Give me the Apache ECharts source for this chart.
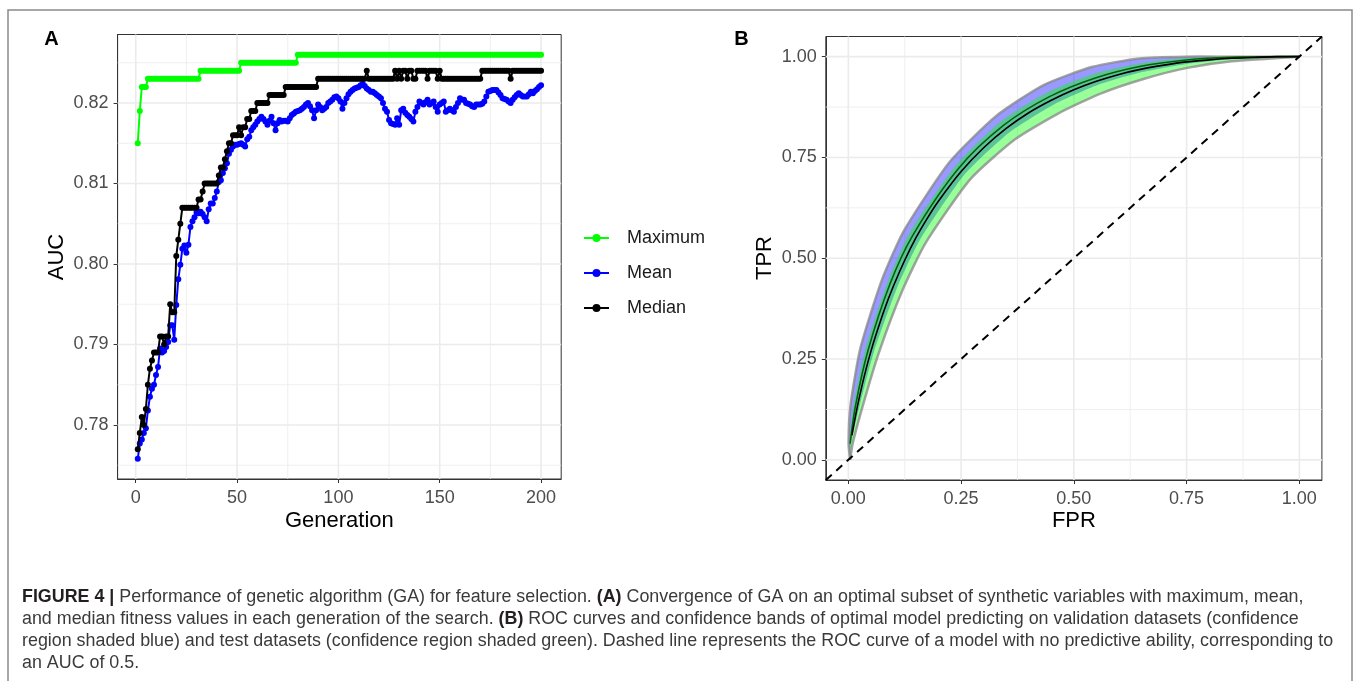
<!DOCTYPE html>
<html><head><meta charset="utf-8">
<script src="https://cdn.jsdelivr.net/npm/echarts@6/dist/echarts.min.js"></script>
<style>html,body{margin:0;padding:0;background:#fff}#c{width:1357px;height:681px}</style>
</head><body><div id="c"></div>
<script>
// ---------- Panel A data (generation 1..200) ----------
const maximumAUC = [
0.815,0.819,0.822,0.822,0.822,0.823,0.823,0.823,0.823,0.823,
0.823,0.823,0.823,0.823,0.823,0.823,0.823,0.823,0.823,0.823,
0.823,0.823,0.823,0.823,0.823,0.823,0.823,0.823,0.823,0.823,
0.823,0.824,0.824,0.824,0.824,0.824,0.824,0.824,0.824,0.824,
0.824,0.824,0.824,0.824,0.824,0.824,0.824,0.824,0.824,0.824,
0.824,0.825,0.825,0.825,0.825,0.825,0.825,0.825,0.825,0.825,
0.825,0.825,0.825,0.825,0.825,0.825,0.825,0.825,0.825,0.825,
0.825,0.825,0.825,0.825,0.825,0.825,0.825,0.825,0.825,0.826,
0.826,0.826,0.826,0.826,0.826,0.826,0.826,0.826,0.826,0.826,
0.826,0.826,0.826,0.826,0.826,0.826,0.826,0.826,0.826,0.826,
0.826,0.826,0.826,0.826,0.826,0.826,0.826,0.826,0.826,0.826,
0.826,0.826,0.826,0.826,0.826,0.826,0.826,0.826,0.826,0.826,
0.826,0.826,0.826,0.826,0.826,0.826,0.826,0.826,0.826,0.826,
0.826,0.826,0.826,0.826,0.826,0.826,0.826,0.826,0.826,0.826,
0.826,0.826,0.826,0.826,0.826,0.826,0.826,0.826,0.826,0.826,
0.826,0.826,0.826,0.826,0.826,0.826,0.826,0.826,0.826,0.826,
0.826,0.826,0.826,0.826,0.826,0.826,0.826,0.826,0.826,0.826,
0.826,0.826,0.826,0.826,0.826,0.826,0.826,0.826,0.826,0.826,
0.826,0.826,0.826,0.826,0.826,0.826,0.826,0.826,0.826,0.826,
0.826,0.826,0.826,0.826,0.826,0.826,0.826,0.826,0.826,0.826];

const meanAUC = [
0.7758,0.7777,0.7782,0.7790,0.7796,0.7818,0.7835,0.7845,0.7850,0.7862,
0.7872,0.7895,0.7890,0.7892,0.7897,0.7903,0.7924,0.7924,0.7906,0.7949,
0.7981,0.7999,0.8019,0.8023,0.8014,0.8024,0.8046,0.8053,0.8058,0.8064,
0.8063,0.8065,0.8062,0.8058,0.8053,0.8068,0.8075,0.8075,0.8082,0.8090,
0.8102,0.8104,0.8113,0.8119,0.8125,0.8137,0.8142,0.8146,0.8148,0.8148,
0.8149,0.8150,0.8148,0.8146,0.8155,0.8158,0.8166,0.8170,0.8173,0.8177,
0.8180,0.8183,0.8180,0.8177,0.8173,0.8178,0.8183,0.8175,0.8166,0.8175,
0.8179,0.8177,0.8178,0.8178,0.8177,0.8181,0.8185,0.8187,0.8189,0.8190,
0.8191,0.8193,0.8195,0.8198,0.8200,0.8196,0.8191,0.8181,0.8191,0.8198,
0.8195,0.8191,0.8193,0.8195,0.8200,0.8202,0.8204,0.8207,0.8208,0.8206,
0.8202,0.8193,0.8200,0.8206,0.8211,0.8214,0.8216,0.8218,0.8219,0.8220,
0.8222,0.8224,0.8221,0.8218,0.8216,0.8214,0.8214,0.8212,0.8210,0.8208,
0.8206,0.8200,0.8193,0.8189,0.8179,0.8175,0.8174,0.8173,0.8181,0.8173,
0.8191,0.8193,0.8188,0.8185,0.8183,0.8180,0.8177,0.8189,0.8195,0.8202,
0.8200,0.8198,0.8201,0.8204,0.8198,0.8200,0.8202,0.8195,0.8189,0.8198,
0.8200,0.8202,0.8189,0.8191,0.8193,0.8191,0.8189,0.8195,0.8200,0.8206,
0.8204,0.8204,0.8200,0.8199,0.8198,0.8196,0.8195,0.8198,0.8198,0.8198,
0.8199,0.8202,0.8208,0.8214,0.8215,0.8216,0.8216,0.8216,0.8213,0.8210,
0.8206,0.8205,0.8204,0.8202,0.8200,0.8204,0.8207,0.8210,0.8212,0.8210,
0.8208,0.8208,0.8208,0.8211,0.8214,0.8212,0.8215,0.8217,0.8220,0.8222];

const medianAUC = [
0.777,0.779,0.781,0.780,0.782,0.785,0.787,0.788,0.789,0.789,
0.789,0.791,0.791,0.790,0.791,0.791,0.795,0.794,0.794,0.801,
0.803,0.805,0.807,0.807,0.807,0.807,0.807,0.807,0.807,0.807,
0.808,0.808,0.809,0.810,0.810,0.810,0.810,0.810,0.810,0.810,
0.811,0.812,0.812,0.813,0.814,0.815,0.815,0.816,0.816,0.816,
0.817,0.816,0.817,0.817,0.818,0.818,0.819,0.819,0.819,0.820,
0.820,0.820,0.820,0.820,0.820,0.821,0.821,0.821,0.821,0.821,
0.821,0.821,0.821,0.822,0.822,0.822,0.822,0.822,0.822,0.822,
0.822,0.822,0.822,0.822,0.822,0.822,0.822,0.822,0.822,0.823,
0.823,0.823,0.823,0.823,0.823,0.823,0.823,0.823,0.823,0.823,
0.823,0.823,0.823,0.823,0.823,0.823,0.823,0.823,0.823,0.823,
0.823,0.823,0.823,0.824,0.823,0.823,0.823,0.823,0.823,0.823,
0.823,0.823,0.823,0.823,0.823,0.823,0.823,0.824,0.823,0.824,
0.823,0.824,0.824,0.823,0.824,0.824,0.823,0.823,0.824,0.824,
0.824,0.824,0.824,0.823,0.824,0.824,0.824,0.824,0.823,0.824,
0.823,0.823,0.823,0.823,0.823,0.823,0.823,0.823,0.823,0.823,
0.823,0.823,0.823,0.823,0.823,0.823,0.823,0.823,0.823,0.823,
0.824,0.824,0.824,0.824,0.824,0.824,0.824,0.824,0.824,0.824,
0.824,0.824,0.824,0.824,0.823,0.824,0.824,0.824,0.824,0.824,
0.824,0.824,0.824,0.824,0.824,0.824,0.824,0.824,0.824,0.824];

const seriesNamesA = ['Maximum', 'Mean', 'Median'];
const genTicks = [0, 50, 100, 150, 200];
const genMinor = [25, 75, 125, 175];
const aucTicks = [0.78, 0.79, 0.80, 0.81, 0.82];
const aucMinor = [0.775, 0.785, 0.795, 0.805, 0.815, 0.825];

// ---------- Panel B data: [FPR, TPR] ----------
const rocTest = [[0.008,0.061],[0.01,0.074],[0.02,0.132],[0.03,0.183],[0.04,0.228],[0.05,0.269],[0.06,0.306],[0.08,0.373],[0.10,0.431],[0.125,0.495],[0.15,0.551],[0.175,0.599],[0.20,0.642],[0.25,0.715],[0.30,0.774],[0.35,0.822],[0.40,0.861],[0.45,0.892],[0.50,0.918],[0.55,0.939],[0.60,0.956],[0.65,0.969],[0.70,0.979],[0.75,0.987],[0.80,0.992],[0.85,0.996],[0.90,0.998],[0.95,1.0],[1.0,1.0]];
const rocValidation = [[0.0039,0.0402],[0.0157,0.1330],[0.0436,0.2711],[0.0918,0.4348],[0.1422,0.5557],[0.2433,0.7215],[0.3446,0.8299],[0.446,0.9008],[0.5476,0.9472],[0.6487,0.9763],[0.7495,0.9919],[0.85,0.9985],[1.0,1.0]];
const validationUpper = [[0.004,0.0],[0.0006,0.0408],[0.0048,0.1355],[0.0266,0.2765],[0.0734,0.4433],[0.1228,0.5675],[0.2249,0.7393],[0.3285,0.8535],[0.4329,0.9296],[0.5395,0.9743],[0.6451,0.9957],[0.7482,1.0],[0.85,1.0],[1.0,1.0]];
const validationLower = [[0.004,0.0],[0.0061,0.0398],[0.0243,0.1310],[0.0564,0.2669],[0.1082,0.4272],[0.1588,0.5457],[0.2575,0.7077],[0.3567,0.8122],[0.455,0.881],[0.5528,0.9296],[0.6513,0.9617],[0.7505,0.9821],[0.8501,0.9935],[1.0,1.0]];
const testUpper = [[0.004,0.0],[0.0028,0.0404],[0.0113,0.1340],[0.0372,0.2731],[0.0857,0.4376],[0.1344,0.5604],[0.2366,0.7280],[0.3379,0.8397],[0.441,0.9119],[0.5444,0.9578],[0.6473,0.9836],[0.749,0.9969],[0.8498,1.0],[1.0,1.0]];
const testLower = [[0.004,0.0],[0.0094,0.0392],[0.0308,0.1295],[0.067,0.2635],[0.1204,0.4216],[0.1714,0.538],[0.2701,0.6956],[0.3689,0.7944],[0.4651,0.8589],[0.5591,0.9084],[0.6545,0.9447],[0.7516,0.9722],[0.8504,0.9886],[1.0,1.0]];
const chanceLine = [[-0.05,-0.05],[1.05,1.05]];
const rateTicks = [0, 0.25, 0.5, 0.75, 1];
const rateMinor = [0.125, 0.375, 0.625, 0.875];

const captionLines = [
  '{b|FIGURE 4 |} Performance of genetic algorithm (GA) for feature selection. {b|(A)} Convergence of GA on an optimal subset of synthetic variables with maximum, mean,',
  'and median fitness values in each generation of the search. {b|(B)} ROC curves and confidence bands of optimal model predicting on validation datasets (confidence',
  'region shaded blue) and test datasets (confidence region shaded green). Dashed line represents the ROC curve of a model with no predictive ability, corresponding to',
  'an AUC of 0.5.'
];

// ---------- build ----------
const FONT = '"Liberation Sans", Arial, Helvetica, sans-serif';
const gens = maximumAUC.map((_, i) => i + 1);
const ext = {
  ax: [-8.95, 209.95], ay: [0.77329, 0.82851],
  bx: [-0.05, 1.05], by: [-0.05, 1.05]
};

function gridLines(idx, values, dir, width, other) {
  return {
    type: 'custom', xAxisIndex: idx, yAxisIndex: idx, silent: true, z: 1, clip: false,
    data: values.map(v => dir === 'v' ? [v, other] : [other, v]),
    renderItem: (params, api) => {
      const cs = params.coordSys;
      const p = api.coord([api.value(0), api.value(1)]);
      const shape = dir === 'v'
        ? { x1: p[0], y1: cs.y, x2: p[0], y2: cs.y + cs.height }
        : { x1: cs.x, y1: p[1], x2: cs.x + cs.width, y2: p[1] };
      return { type: 'line', shape, style: { stroke: '#ebebeb', lineWidth: width } };
    }
  };
}

function band(upper, lower, fill, z) {
  return {
    type: 'custom', xAxisIndex: 1, yAxisIndex: 1, silent: true, z, clip: true,
    data: [[0, 0]],
    renderItem: (params, api) => {
      const pts = upper.map(p => api.coord(p)).concat(lower.slice().reverse().map(p => api.coord(p)));
      return { type: 'polygon', shape: { points: pts, smooth: 0.2 }, style: { fill, stroke: 'none' } };
    }
  };
}
function edge(line, z) {
  return {
    type: 'custom', xAxisIndex: 1, yAxisIndex: 1, silent: true, z, clip: true,
    data: [[0, 0]],
    renderItem: (params, api) => ({
      type: 'polyline', shape: { points: line.map(p => api.coord(p)), smooth: 0.2 },
      style: { fill: 'none', stroke: 'rgba(135,135,135,0.75)', lineWidth: 2.5 }
    })
  };
}

function axisCommon(ticks, fmt, margin) {
  return {
    type: 'value', splitLine: { show: false },
    axisLine: { show: true, onZero: false, lineStyle: { color: '#333', width: 1 } },
    axisTick: { show: true, customValues: ticks, length: 4, lineStyle: { color: '#333', width: 1 } },
    axisLabel: { customValues: ticks, formatter: fmt, color: '#4d4d4d', fontSize: 18, fontFamily: FONT, margin },
  };
}

const chart = echarts.init(document.getElementById('c'), null, { renderer: 'canvas' });

// caption font size fitted to reference line width
const mctx = document.createElement('canvas').getContext('2d');
mctx.font = '100px ' + FONT;
const capFs = 100 * 1312 / mctx.measureText(captionLines[2]).width;

const lineA = (name, arr, color, z) => ({
  name, type: 'line', xAxisIndex: 0, yAxisIndex: 0, z,
  data: gens.map((g, i) => [g, arr[i]]),
  symbol: 'circle', symbolSize: 6, showSymbol: true,
  lineStyle: { color, width: 2 }, itemStyle: { color }
});

const option = {
  animation: false,
  backgroundColor: '#fff',
  textStyle: { fontFamily: FONT },
  grid: [
    { left: 117.6, top: 34.5, width: 443.6, height: 444.5, show: true, borderColor: '#333', borderWidth: 1, backgroundColor: '#fff' },
    { left: 825.8, top: 36.5, width: 496.1, height: 443.5, show: true, borderColor: '#333', borderWidth: 1, backgroundColor: '#fff' }
  ],
  xAxis: [
    Object.assign(axisCommon(genTicks, v => String(v), 10), { gridIndex: 0, min: ext.ax[0], max: ext.ax[1] }),
    Object.assign(axisCommon(rateTicks, v => v.toFixed(2), 10), { gridIndex: 1, min: ext.bx[0], max: ext.bx[1] })
  ],
  yAxis: [
    Object.assign(axisCommon(aucTicks, v => v.toFixed(2), 9), { gridIndex: 0, min: ext.ay[0], max: ext.ay[1] }),
    Object.assign(axisCommon(rateTicks, v => v.toFixed(2), 9), { gridIndex: 1, min: ext.by[0], max: ext.by[1] })
  ],
  legend: {
    data: seriesNamesA, orient: 'vertical', left: 583, top: 229, padding: 0,
    itemWidth: 25, itemHeight: 10, itemGap: 17,
    textStyle: { fontSize: 18, color: '#1a1a1a', fontFamily: FONT, padding: [0, 0, 0, 13] }
  },
  series: [
    gridLines(0, genMinor, 'v', 0.8, ext.ay[0]), gridLines(0, aucMinor, 'h', 0.8, ext.ax[0]),
    gridLines(0, genTicks, 'v', 1.6, ext.ay[0]), gridLines(0, aucTicks, 'h', 1.6, ext.ax[0]),
    gridLines(1, rateMinor, 'v', 0.8, 0), gridLines(1, rateMinor, 'h', 0.8, 0),
    gridLines(1, rateTicks, 'v', 1.6, 0), gridLines(1, rateTicks, 'h', 1.6, 0),
    lineA('Mean', meanAUC, '#0000ff', 3),
    lineA('Median', medianAUC, '#000000', 4),
    lineA('Maximum', maximumAUC, '#00ff00', 5),
    band(validationUpper, validationLower, 'rgba(0,0,255,0.4)', 2),
    band(testUpper, testLower, 'rgba(0,255,0,0.4)', 3),
    edge(validationUpper, 4), edge(testLower, 4),
    { type: 'line', xAxisIndex: 1, yAxisIndex: 1, z: 5, data: rocValidation, symbol: 'none', smooth: 0.3, lineStyle: { color: '#006400', width: 1.6 } },
    { type: 'line', xAxisIndex: 1, yAxisIndex: 1, z: 6, data: rocTest, symbol: 'none', smooth: 0.3, lineStyle: { color: '#000', width: 1.6 } },
    { type: 'line', xAxisIndex: 1, yAxisIndex: 1, z: 7, data: chanceLine, symbol: 'none', lineStyle: { color: '#000', width: 2, type: [8, 6] } }
  ],
  graphic: [
    { type: 'rect', shape: { x: 8, y: 10, width: 1344, height: 690 }, style: { fill: 'none', stroke: '#8a8a8a', lineWidth: 1.5 }, z: 0 },
    { type: 'text', x: 51.5, y: 39, style: { text: 'A', font: 'bold 20px ' + FONT, fill: '#000', align: 'center', verticalAlign: 'middle' } },
    { type: 'text', x: 741.5, y: 39, style: { text: 'B', font: 'bold 20px ' + FONT, fill: '#000', align: 'center', verticalAlign: 'middle' } },
    { type: 'text', x: 339.4, y: 521, style: { text: 'Generation', font: '22px ' + FONT, fill: '#000', align: 'center', verticalAlign: 'middle' } },
    { type: 'text', x: 57, y: 257, rotation: Math.PI / 2, style: { text: 'AUC', font: '22px ' + FONT, fill: '#000', align: 'center', verticalAlign: 'middle' } },
    { type: 'text', x: 1073.9, y: 521, style: { text: 'FPR', font: '22px ' + FONT, fill: '#000', align: 'center', verticalAlign: 'middle' } },
    { type: 'text', x: 765, y: 258, rotation: Math.PI / 2, style: { text: 'TPR', font: '22px ' + FONT, fill: '#000', align: 'center', verticalAlign: 'middle' } }
  ].concat(captionLines.map((t, i) => ({
    type: 'text', x: 22, y: 597 + i * 22,
    style: {
      text: t, fontSize: capFs, fontFamily: FONT, fill: '#3a3a3a', verticalAlign: 'middle',
      rich: { b: { fontWeight: 'bold', fontSize: capFs, fontFamily: FONT, fill: '#231f20' } }
    }
  })))
};
chart.setOption(option);
</script>
</body></html>
